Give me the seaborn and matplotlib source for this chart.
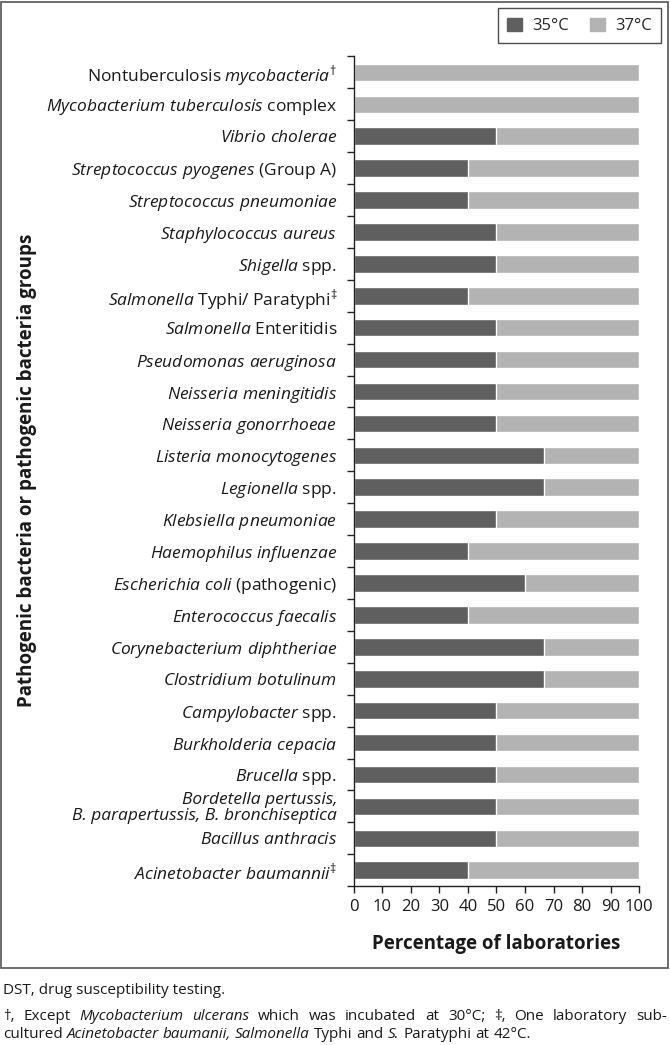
import matplotlib
matplotlib.use("Agg")
import matplotlib.pyplot as plt
import matplotlib.patches as mpatches
import seaborn as sns
import pandas as pd
import numpy as np

# ---------------- data ----------------
categories = [
    r"Nontuberculosis $\mathit{mycobacteria}^{\mathrm{†}}$",
    r"$\mathit{Mycobacterium\ tuberculosis}$ complex",
    r"$\mathit{Vibrio\ cholerae}$",
    r"$\mathit{Streptococcus\ pyogenes}$ (Group A)",
    r"$\mathit{Streptococcus\ pneumoniae}$",
    r"$\mathit{Staphylococcus\ aureus}$",
    r"$\mathit{Shigella}$ spp.",
    r"$\mathit{Salmonella}$ Typhi/ Paratyphi$^{\mathrm{‡}}$",
    r"$\mathit{Salmonella}$ Enteritidis",
    r"$\mathit{Pseudomonas\ aeruginosa}$",
    r"$\mathit{Neisseria\ meningitidis}$",
    r"$\mathit{Neisseria\ gonorrhoeae}$",
    r"$\mathit{Listeria\ monocytogenes}$",
    r"$\mathit{Legionella}$ spp.",
    r"$\mathit{Klebsiella\ pneumoniae}$",
    r"$\mathit{Haemophilus\ influenzae}$",
    r"$\mathit{Escherichia\ coli}$ (pathogenic)",
    r"$\mathit{Enterococcus\ faecalis}$",
    r"$\mathit{Corynebacterium\ diphtheriae}$",
    r"$\mathit{Clostridium\ botulinum}$",
    r"$\mathit{Campylobacter}$ spp.",
    r"$\mathit{Burkholderia\ cepacia}$",
    r"$\mathit{Brucella}$ spp.",
    "Bordetella pertussis,\nB. parapertussis, B. bronchiseptica",
    r"$\mathit{Bacillus\ anthracis}$",
    r"$\mathit{Acinetobacter\ baumannii}^{\mathrm{‡}}$",
]
italic_plain = [23]  # fully italic label drawn without mathtext
pct_35 = [0, 0, 50, 40, 40, 50, 50, 40, 50, 50, 50, 50, 66.7, 66.7, 50, 40,
          60, 40, 66.7, 66.7, 50, 50, 50, 50, 50, 40]
pct_37 = [100 - v for v in pct_35]
series_labels = ["35°C", "37°C"]
x_ticks = [0, 10, 20, 30, 40, 50, 60, 70, 80, 90, 100]

# ---------------- style ----------------
sns.set_theme(style="white")
plt.rcParams["font.family"] = ["Open Sans", "DejaVu Sans"]
plt.rcParams["mathtext.fontset"] = "custom"
plt.rcParams["mathtext.rm"] = "Open Sans"
plt.rcParams["mathtext.it"] = "Open Sans:italic"
plt.rcParams["mathtext.bf"] = "Open Sans:bold"

c35 = "#5f5f5f"
c37 = "#b3b3b3"
txt = "#1a1a1a"

df = pd.DataFrame({"cat": categories, "p35": pct_35,
                   "total": [a + b for a, b in zip(pct_35, pct_37)]})

fig = plt.figure(figsize=(6.7, 10.45), dpi=100)
ax = fig.add_axes([0.528, 0.152, 0.426, 0.794])

sns.barplot(data=df, y="cat", x="total", color=c37, orient="h",
            width=0.55, saturation=1, ax=ax, order=categories)
sns.barplot(data=df, y="cat", x="p35", color=c35, orient="h",
            width=0.55, saturation=1, ax=ax, order=categories)

ax.set_xlim(0, 100)
ax.set_ylim(len(categories) - 0.5, -0.5)
ax.set_xticks(x_ticks)
ax.set_xticklabels([str(t) for t in x_ticks], fontsize=12, color=txt)
ax.tick_params(axis="x", direction="out", length=5, width=1, color="#222222",
               bottom=True, pad=4)
ax.set_yticks(range(len(categories)))
ax.set_yticklabels(categories, fontsize=12.5, color=txt, linespacing=1.0)
for i in italic_plain:
    ax.get_yticklabels()[i].set_fontstyle("italic")
ax.tick_params(axis="y", which="major", length=0, pad=12)
ax.set_yticks(np.arange(-0.5, len(categories), 1.0), minor=True)
ax.tick_params(axis="y", which="minor", direction="out", length=5, width=1,
               color="#222222", left=True)

for s in ["top", "right"]:
    ax.spines[s].set_visible(False)
for s in ["left", "bottom"]:
    ax.spines[s].set_color("#222222")
    ax.spines[s].set_linewidth(1)

ax.set_xlabel("Percentage of laboratories", fontsize=13.5, fontweight="bold",
              color=txt, labelpad=14)
ax.set_ylabel("")
fig.text(0.041, 0.550, "Pathogenic bacteria or pathogenic bacteria groups",
         rotation=90, ha="center", va="center", fontsize=13.5, fontweight="bold",
         color=txt)

handles = [mpatches.Patch(color=c35), mpatches.Patch(color=c37)]
leg = fig.legend(handles, series_labels, loc="upper right",
                 bbox_to_anchor=(0.987, 0.992), borderaxespad=0, ncol=2,
                 frameon=True, fancybox=False, edgecolor="#222222", fontsize=12,
                 handlelength=0.9, handleheight=0.9, columnspacing=1.3,
                 handletextpad=0.6, borderpad=0.55)
leg.get_frame().set_linewidth(1)

# figure border
fig.patches.append(mpatches.Rectangle((0.0022, 0.074), 0.995, 0.924,
                                      transform=fig.transFigure, fill=False,
                                      edgecolor="#555555", linewidth=1.2))

# footnotes
fs_note = 11
renderer = fig.canvas.get_renderer()


def place_words(words, y, x0, x1=None):
    objs = [fig.text(0, y, w, fontsize=fs_note, color=txt, va="center",
                     fontstyle="italic" if it else "normal") for w, it in words]
    widths = [o.get_window_extent(renderer).width / fig.bbox.width for o in objs]
    if x1 is None:
        a = fig.text(0, 0, "x x", fontsize=fs_note)
        b = fig.text(0, 0, "xx", fontsize=fs_note)
        gap = (a.get_window_extent(renderer).width -
               b.get_window_extent(renderer).width) / fig.bbox.width
        a.remove()
        b.remove()
    else:
        gap = (x1 - x0 - sum(widths)) / (len(objs) - 1)
    x = x0
    for o, w in zip(objs, widths):
        o.set_x(x)
        x += w + gap


fig.text(0.0045, 0.0517, "DST, drug susceptibility testing.", fontsize=fs_note,
         color=txt, va="center")

line1 = [("†,", False), ("Except", False), ("Mycobacterium", True),
         ("ulcerans", True), ("which", False), ("was", False),
         ("incubated", False), ("at", False), ("30°C;", False), ("‡,", False),
         ("One", False), ("laboratory", False), ("sub-", False)]
line2 = [("cultured", False), ("Acinetobacter", True), ("baumanii,", True),
         ("Salmonella", True), ("Typhi", False), ("and", False), ("S.", True),
         ("Paratyphi", False), ("at", False), ("42°C.", False)]
place_words(line1, 0.0268, 0.0045, 0.9955)
place_words(line2, 0.0096, 0.0045)

fig.savefig("out.png", dpi=100)
